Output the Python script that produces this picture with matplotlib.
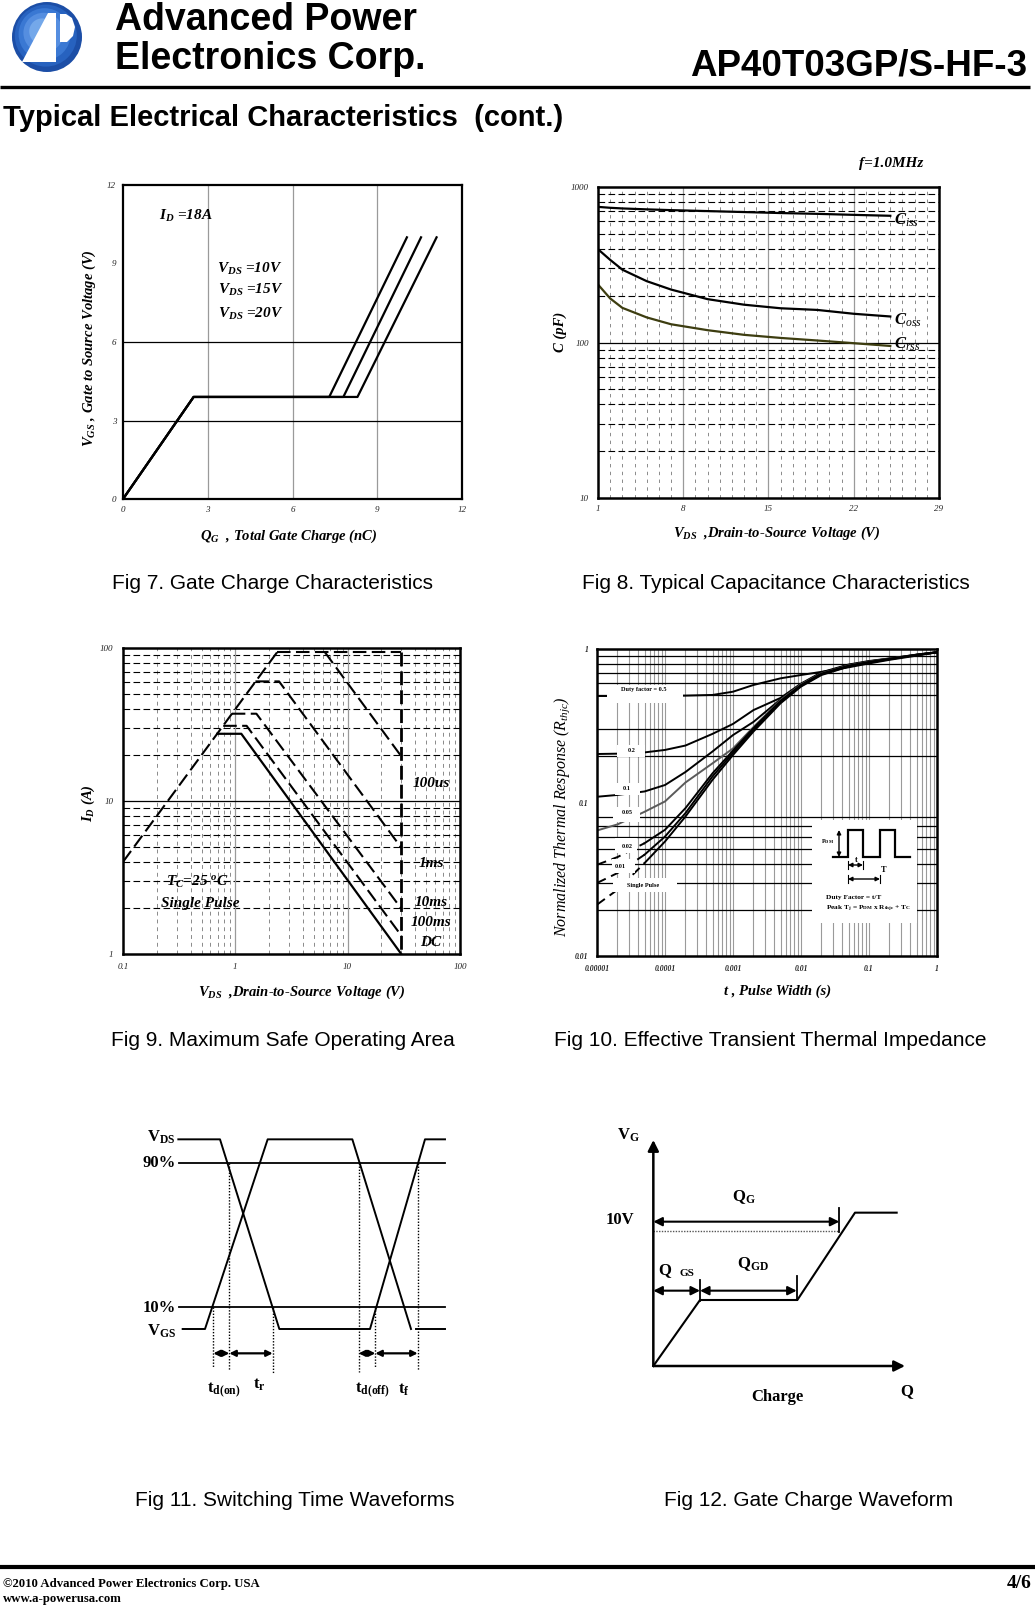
import numpy as np
import matplotlib
matplotlib.use("Agg")
import matplotlib.pyplot as plt
from matplotlib.patches import Circle, Polygon, Rectangle

# ---------------- data ----------------
# Fig 7  gate charge
qg_ticks = [0, 3, 6, 9, 12]
vgs_ticks = [0, 3, 6, 9, 12]
qg_vds10 = [0, 2.5, 7.3, 10.05]
qg_vds15 = [0, 2.5, 7.8, 10.55]
qg_vds20 = [0, 2.5, 8.3, 11.1]
vgs_curve = [0, 3.9, 3.9, 10.0]

# Fig 8  capacitance
vds_ticks = [1, 8, 15, 22, 29]
cap_ticks = [10, 100, 1000]
vds_cap = [1, 2, 3, 5, 7, 10, 13, 16, 19, 22, 25]
ciss = [745, 735, 728, 718, 710, 700, 690, 680, 672, 662, 653]
coss = [398, 340, 294, 248, 219, 190, 175, 166, 162, 153, 147]
crss = [236, 192, 167, 145, 131, 120, 112, 107, 103, 99, 95]

# Fig 9  SOA
soa_vticks = [0.1, 1, 10, 100]
soa_iticks = [1, 10, 100]
rds_v = [0.1, 2.36]
rds_i = [4.0, 94.0]
top_v = [2.36, 30]
top_i = [94, 94]
v_100us = [6.26, 30]
i_100us = [94, 19.6]
v_1ms = [1.51, 2.45, 30]
i_1ms = [60.5, 60.5, 4.95]
v_10ms = [0.93, 1.54, 30]
i_10ms = [37.2, 37.2, 1.98]
v_100ms = [0.78, 1.26, 30]
i_100ms = [31, 31, 1.32]
v_dc = [0.69, 1.13, 30]
i_dc = [27.5, 27.5, 1.0]
vmax_v = [30, 30]
vmax_i = [94, 1.0]

# Fig 10 transient thermal impedance
t_ticks = [1e-5, 1e-4, 1e-3, 1e-2, 1e-1, 1]
t_labels = ['0.00001', '0.0001', '0.001', '0.01', '0.1', '1']
z_ticks = [0.01, 0.1, 1]
z_labels = ['0.01', '0.1', '1']
t_zth = [1e-5, 2e-5, 5e-5, 1e-4, 2e-4, 5e-4, 1e-3, 2e-3, 5e-3, 1e-2, 2e-2, 5e-2, 0.1, 0.2, 0.5, 1]
z_single = [0.0216, 0.027, 0.0403, 0.0557, 0.081, 0.1406, 0.204, 0.29, 0.443, 0.569, 0.677, 0.767, 0.815, 0.857, 0.914, 0.951]
z_d001 = [0.0299, 0.0347, 0.0457, 0.060, 0.0853, 0.148, 0.211, 0.297, 0.45, 0.575, 0.684, 0.771, 0.819, 0.859, 0.915, 0.951]
z_d002 = [0.0393, 0.0441, 0.0543, 0.0664, 0.0919, 0.155, 0.218, 0.305, 0.459, 0.583, 0.691, 0.779, 0.823, 0.861, 0.916, 0.952]
z_d005 = [0.0657, 0.072, 0.087, 0.1016, 0.135, 0.18, 0.225, 0.31, 0.465, 0.588, 0.694, 0.782, 0.826, 0.863, 0.917, 0.952]
z_d01 = [0.109, 0.112, 0.118, 0.13, 0.158, 0.215, 0.275, 0.335, 0.47, 0.59, 0.698, 0.786, 0.83, 0.866, 0.918, 0.953]
z_d02 = [0.207, 0.208, 0.212, 0.22, 0.235, 0.28, 0.325, 0.40, 0.48, 0.595, 0.705, 0.792, 0.835, 0.868, 0.919, 0.953]
z_d05 = [0.494, 0.494, 0.494, 0.495, 0.497, 0.502, 0.527, 0.583, 0.644, 0.677, 0.71, 0.76, 0.805, 0.85, 0.905, 0.951]

# Fig 11 switching waveform (schematic units)
sw_a_x = [175, 300, 478, 750, 915, 975]
sw_a_y = [148, 148, 717, 717, 148, 148]
sw_b_x = [188, 255, 443, 697, 873, np.nan, 888, 975]
sw_b_y = [717, 717, 148, 148, 717, np.nan, 717, 717]
sw_lvl90 = 218
sw_lvl10 = 652
sw_ref_x = [178, 975]
sw_mark_x = [280, 328, 458, 716, 766, 893]
sw_mark_top = [652, 218, 652, 218, 652, 218]
sw_mark_bot = [830, 840, 850, 845, 830, 840]
sw_arrow_y = 790

# Fig 12 gate charge waveform (schematic units)
gc_x = [220, 360, 652, 825, 950]
gc_y = [828, 630, 630, 368, 368]
gc_origin = (220, 828)
gc_axis_top = 150
gc_axis_right = 975
gc_qg_end = 778
gc_qg_y = 395
gc_10v_y = 423
gc_qgs_end = 360
gc_qgd_end = 650
gc_q_y = 602

# ---------------- layout helpers ----------------
W, H = 1035, 1605
SERIF = 'Liberation Serif'
SANS = 'Liberation Sans'
plt.rcParams['font.family'] = [SERIF, 'DejaVu Sans']
plt.rcParams['mathtext.fontset'] = 'custom'
plt.rcParams['mathtext.rm'] = 'Liberation Serif'
plt.rcParams['mathtext.it'] = 'Liberation Serif:italic'
plt.rcParams['mathtext.bf'] = 'Liberation Serif:bold'
plt.rcParams['mathtext.bfit'] = 'Liberation Serif:italic:bold'


def axrect(x0, y0, x1, y1):
    return [x0 / W, 1 - y1 / H, (x1 - x0) / W, (y1 - y0) / H]


def fx(x):
    return x / W


def fy(y):
    return 1 - y / H


fig = plt.figure(figsize=(W / 100, H / 100), dpi=100)
fig.patch.set_facecolor('white')

BI = dict(fontweight='bold', fontstyle='italic', fontfamily=SERIF)


def ticks_style(ax, xt, xl, yt, yl, size, padx, pady, weight='normal'):
    ax.set_xticks(xt)
    ax.set_xticklabels(xl, fontsize=size, fontstyle='italic', fontweight=weight, color='#222222')
    ax.set_yticks(yt)
    ax.set_yticklabels(yl, fontsize=size, fontstyle='italic', fontweight=weight, color='#222222')
    ax.minorticks_off()
    ax.tick_params(axis='both', which='both', length=0)
    ax.tick_params(axis='x', pad=padx)
    ax.tick_params(axis='y', pad=pady)


def spines(ax, lw):
    for sp in ax.spines.values():
        sp.set_linewidth(lw)
        sp.set_zorder(5)


def caption(x, y, s):
    fig.text(fx(x), fy(y), s, ha='center', va='center', fontsize=15, fontfamily=SANS)


# ---------------- Fig 7 ----------------
ax7 = fig.add_axes(axrect(123, 185, 462, 499))
ax7.set_xlim(0, 12)
ax7.set_ylim(0, 12)
for v in [3, 6, 9]:
    ax7.axvline(v, color='#9a9a9a', lw=0.9, zorder=1)
for v in [3, 6]:
    ax7.axhline(v, color='black', lw=0.9, zorder=1)
for q in (qg_vds10, qg_vds15, qg_vds20):
    ax7.plot(q, vgs_curve, color='black', lw=1.6, zorder=3)
ticks_style(ax7, qg_ticks, [str(v) for v in qg_ticks], vgs_ticks, [str(v) for v in vgs_ticks], 6.5, 5, 5)
spines(ax7, 1.6)
ax7.text(1.27, 10.8, r'$\mathbfit{I}_{\mathbfit{D}}$ =18A', fontsize=11, va='center', **BI)
ax7.text(3.33, 8.81, r'$\mathbfit{V}_{\mathbfit{DS}}$ =10V', fontsize=11, va='center', **BI)
ax7.text(3.37, 8.0, r'$\mathbfit{V}_{\mathbfit{DS}}$ =15V', fontsize=11, va='center', **BI)
ax7.text(3.37, 7.09, r'$\mathbfit{V}_{\mathbfit{DS}}$ =20V', fontsize=11, va='center', **BI)
fig.text(fx(89), fy(348), r'$\mathbfit{V}_{\mathbfit{GS}}$ , Gate to Source Voltage (V)', rotation=90,
         ha='center', va='center', fontsize=10.5, **BI)
fig.text(fx(289), fy(536), r'$\mathbfit{Q}_{\mathbfit{G}}$  , Total Gate Charge (nC)', ha='center', va='center',
         fontsize=10.5, **BI)
caption(272, 583, 'Fig 7. Gate Charge Characteristics')

# ---------------- Fig 8 ----------------
ax8 = fig.add_axes(axrect(598, 187, 939, 498))
ax8.set_yscale('log')
ax8.set_xlim(1, 29)
ax8.set_ylim(10, 1000)
for v in range(2, 29):
    if v in vds_ticks:
        ax8.axvline(v, color='#9a9a9a', lw=0.9, zorder=1)
    else:
        ax8.axvline(v, color='#8a8a8a', lw=0.7, ls=(0, (3.5, 4.5)), zorder=1)
for dec in (10, 100):
    for m in range(2, 10):
        ax8.axhline(dec * m, color='black', lw=0.8, ls=(0, (6, 3)), zorder=1)
ax8.axhline(100, color='black', lw=0.9, zorder=1)
ax8.plot(vds_cap, ciss, color='black', lw=1.6, zorder=3)
ax8.plot(vds_cap, coss, color='black', lw=1.6, zorder=3)
ax8.plot(vds_cap, crss, color='#3d3d10', lw=1.6, zorder=3)
ticks_style(ax8, vds_ticks, [str(v) for v in vds_ticks], cap_ticks, ['10', '100', '1000'], 6.5, 5, 6.5)
spines(ax8, 1.8)
ax8.text(25.3, 614, r'$\mathbfit{C}_{\mathit{iss}}$', fontsize=12, va='center', **BI)
ax8.text(25.3, 138, r'$\mathbfit{C}_{\mathit{oss}}$', fontsize=12, va='center', **BI)
ax8.text(25.3, 98, r'$\mathbfit{C}_{\mathit{rss}}$', fontsize=12, va='center', **BI)
fig.text(fx(923), fy(163), 'f=1.0MHz', ha='right', va='center', fontsize=11, **BI)
fig.text(fx(560), fy(332), 'C (pF)', rotation=90, ha='center', va='center', fontsize=10.5, **BI)
fig.text(fx(777), fy(533), r'$\mathbfit{V}_{\mathbfit{DS}}$  ,Drain-to-Source Voltage (V)', ha='center',
         va='center', fontsize=10.5, **BI)
caption(776, 583, 'Fig 8. Typical Capacitance Characteristics')

# ---------------- Fig 9 ----------------
ax9 = fig.add_axes(axrect(123, 648, 460, 954))
ax9.set_xscale('log')
ax9.set_yscale('log')
ax9.set_xlim(0.1, 100)
ax9.set_ylim(1, 100)
for dec in (0.1, 1, 10):
    for m in range(2, 10):
        ax9.axvline(dec * m, color='#8a8a8a', lw=0.7, ls=(0, (4, 4)), zorder=1)
for dec in (1, 10):
    for m in range(2, 10):
        ax9.axhline(dec * m, color='black', lw=0.8, ls=(0, (6, 3)), zorder=1)
for v in (1, 10):
    ax9.axvline(v, color='#9a9a9a', lw=0.9, zorder=1)
ax9.axhline(10, color='black', lw=0.9, zorder=1)
dash = (0, (6.5, 2.6))
for xs, ys in ((rds_v, rds_i), (top_v, top_i), (v_100us, i_100us), (v_1ms, i_1ms), (v_10ms, i_10ms),
               (v_100ms, i_100ms)):
    ax9.plot(xs, ys, color='black', lw=1.5, ls=dash, zorder=3)
ax9.plot(v_dc, i_dc, color='black', lw=1.6, zorder=3)
ax9.plot(vmax_v, vmax_i, color='black', lw=2.0, ls=(0, (5, 1.8)), zorder=3)
ticks_style(ax9, soa_vticks, ['0.1', '1', '10', '100'], soa_iticks, ['1', '10', '100'], 6.5, 6.5, 7)
spines(ax9, 1.8)
for s, xf, yf in (('100us', 0.860, 0.556), ('1ms', 0.876, 0.297), ('10ms', 0.866, 0.168),
                  ('100ms', 0.854, 0.102), ('DC', 0.883, 0.037)):
    ax9.text(xf, yf, s, transform=ax9.transAxes, fontsize=11, va='center', **BI)
ax9.text(0.129, 0.236, r'$\mathbfit{T}_{\mathbfit{C}}$=25 $^{\mathbfit{o}}$C', transform=ax9.transAxes,
         fontsize=11, va='center', **BI)
ax9.text(0.114, 0.165, 'Single Pulse', transform=ax9.transAxes, fontsize=11, va='center', **BI)
fig.text(fx(88), fy(803), r'$\mathbfit{I}_{\mathbfit{D}}$ (A)', rotation=90, ha='center', va='center',
         fontsize=10.5, **BI)
fig.text(fx(302), fy(992), r'$\mathbfit{V}_{\mathbfit{DS}}$  ,Drain-to-Source Voltage (V)', ha='center',
         va='center', fontsize=10.5, **BI)
caption(283, 1041, 'Fig 9. Maximum Safe Operating Area')

# ---------------- Fig 10 ----------------
ax10 = fig.add_axes(axrect(597, 649, 937, 956))
ax10.set_xscale('log')
ax10.set_yscale('log')
ax10.set_xlim(1e-5, 1)
ax10.set_ylim(0.01, 1)
for dec in (1e-5, 1e-4, 1e-3, 1e-2, 1e-1):
    for m in range(1, 10):
        if dec * m > 1e-5:
            ax10.axvline(dec * m, color='#9a9a9a', lw=0.8, zorder=1)
for v in [0.02, 0.03, 0.04, 0.05, 0.06, 0.07, 0.08, 0.2, 0.3, 0.5, 0.6, 0.7, 0.8, 0.9]:
    ax10.axhline(v, color='black', lw=0.9, zorder=1)
t_arr = np.array(t_zth)
left = t_arr <= 5e-5
right = t_arr >= 5e-5
for z, col in ((z_d05, 'black'), (z_d02, 'black'), (z_d01, 'black'), (z_d005, '#5a5a5a')):
    ax10.plot(t_zth, z, color=col, lw=1.4, zorder=3)
for z in (z_d002, z_d001, z_single):
    za = np.array(z)
    ax10.plot(t_arr[right], za[right], color='black', lw=1.4, zorder=3)
    ax10.plot(t_arr[left], za[left], color='black', lw=1.4, ls=(0, (5, 3)), zorder=3)
ticks_style(ax10, t_ticks, t_labels, z_ticks, z_labels, 5.5, 6.5, 6, weight='bold')
spines(ax10, 1.8)
fig.text(fx(562), fy(817), r'Normalized Thermal Response ($\mathit{R}_{\mathit{thjc}}$)', rotation=90,
         ha='center', va='center', fontsize=11.5, fontstyle='italic', fontfamily=SERIF)
fig.text(fx(778), fy(991), 't , Pulse Width (s)', ha='center', va='center', fontsize=10.5, **BI)
caption(770, 1041, 'Fig 10. Effective Transient Thermal Impedance')

# ---------------- overlay (header, footer, fig10 labels) ----------------
ov = fig.add_axes([0, 0, 1, 1], zorder=10)
ov.set_xlim(0, W)
ov.set_ylim(H, 0)
ov.axis('off')

# white label boxes over fig 10
for (x0, x1, y0, y1) in ((607, 683, 685, 703), (617, 645, 745, 757), (615, 640, 783, 795),
                         (613, 640, 807, 822), (615, 637, 838, 853), (612, 635, 859, 873),
                         (613, 677, 878, 892), (812, 917, 820, 923)):
    ov.add_patch(Rectangle((x0, y0), x1 - x0, y1 - y0, fc='white', ec='none', zorder=2))
lab_kw = dict(fontweight='bold', fontfamily=SERIF, ha='center', va='center', zorder=4)
for s, x, y, fs in (('Duty factor = 0.5', 644, 689, 4.5), ('0.2', 632, 750, 4.5), ('0.1', 627, 788, 4.5),
                    ('0.05', 627, 813, 4.5), ('0.02', 627, 846, 4.5), ('0.01', 620, 867, 4.5),
                    ('Single Pulse', 643, 886, 4.5)):
    ov.text(x, y, s, fontsize=fs, **lab_kw)
# PDM inset
pdm_x = [833, 848, 848, 863, 863, 880, 880, 895, 895, 910]
pdm_y = [857, 857, 830, 830, 857, 857, 830, 830, 857, 857]
ov.plot(pdm_x, pdm_y, color='black', lw=1.6, zorder=4, solid_joinstyle='miter')
ov.annotate('', xy=(839, 830), xytext=(839, 857),
            arrowprops=dict(arrowstyle='<|-|>', lw=1.0, color='black', mutation_scale=6, shrinkA=0, shrinkB=0),
            zorder=4)
ov.annotate('', xy=(848, 865), xytext=(863, 865),
            arrowprops=dict(arrowstyle='<|-|>', lw=1.0, color='black', mutation_scale=6, shrinkA=0, shrinkB=0),
            zorder=4)
ov.annotate('', xy=(848, 879), xytext=(880, 879),
            arrowprops=dict(arrowstyle='<|-|>', lw=1.0, color='black', mutation_scale=6, shrinkA=0, shrinkB=0),
            zorder=4)
for xx, yc in ((848, 865), (863, 865), (848, 879), (880, 879)):
    ov.plot([xx, xx], [yc - 4, yc + 4], color='black', lw=0.8, zorder=4)
ov.text(828, 842, r'P$_{\mathbf{DM}}$', fontsize=4.5, **lab_kw)
ov.text(856, 860, 't', fontsize=6, **lab_kw)
ov.text(884, 870, 'T', fontsize=6, **lab_kw)
ov.text(826, 898, 'Duty Factor = t/T', fontsize=5.3, fontweight='bold', fontfamily=SERIF, ha='left',
        va='center', zorder=4)
ov.text(826, 909, r'Peak T$_{\mathbf{j}}$ = P$_{\mathbf{DM}}$ x R$_{\mathbf{thjc}}$ + T$_{\mathbf{C}}$',
        fontsize=5.3, fontweight='bold', fontfamily=SERIF, ha='left', va='center', zorder=4)

# header
for r, c, off in ((35, '#1c4ea6', 0), (31, '#2762bf', 2), (26, '#3a78d3', 4), (20, '#558ee0', 6),
                  (13, '#74a8ea', 8)):
    ov.add_patch(Circle((47 - off * 0.6, 37 - off * 0.7), r, fc=c, ec='none', zorder=2))
ov.add_patch(Polygon([(22, 62), (48, 13), (56, 13), (56, 62)], closed=True, fc='white', ec='none', zorder=3))
ov.add_patch(Polygon([(60, 14), (66, 14), (72, 18), (75, 27), (73, 36), (67, 42), (60, 42)], closed=True,
                     fc='white', ec='none', zorder=3))
ov.text(115, 30, 'Advanced Power', fontsize=27, fontweight='bold', fontfamily=SANS, ha='left',
        va='baseline')
ov.text(115, 69, 'Electronics Corp.', fontsize=27, fontweight='bold', fontfamily=SANS, ha='left',
        va='baseline')
ov.text(1027, 76, 'AP40T03GP/S-HF-3', fontsize=26.5, fontweight='bold', fontfamily=SANS, ha='right',
        va='baseline')
ov.plot([0, 1030], [87, 87], color='black', lw=2.4, solid_capstyle='butt')
ov.text(3, 126, 'Typical Electrical Characteristics  (cont.)', fontsize=21, fontweight='bold',
        fontfamily=SANS, ha='left', va='baseline')

# footer
ov.plot([0, W], [1567, 1567], color='black', lw=3.0, solid_capstyle='butt')
ov.text(3, 1584, '\u00a92010 Advanced Power Electronics Corp. USA', fontsize=9.2, fontweight='bold',
        fontfamily=SERIF, ha='left', va='center')
ov.text(3, 1599, 'www.a-powerusa.com', fontsize=9.2, fontweight='bold', fontfamily=SERIF, ha='left',
        va='center')
ov.text(1032, 1583, '4/6', fontsize=14, fontweight='bold', fontfamily=SERIF, ha='right', va='center')

# ---------------- Fig 11 ----------------
ax11 = fig.add_axes(axrect(120, 1090, 120 + 1000 / 3, 1090 + 1000 / 3))
ax11.set_xlim(0, 1000)
ax11.set_ylim(1000, 0)
ax11.axis('off')
ax11.plot(sw_ref_x, [sw_lvl90, sw_lvl90], color='black', lw=1.3)
ax11.plot(sw_ref_x, [sw_lvl10, sw_lvl10], color='black', lw=1.3)
ax11.plot(sw_a_x, sw_a_y, color='black', lw=1.4)
ax11.plot(sw_b_x, sw_b_y, color='black', lw=1.4)
for xm, yt, yb in zip(sw_mark_x, sw_mark_top, sw_mark_bot):
    ax11.plot([xm, xm], [yt, yb], color='black', lw=1.0, ls=(0, (1, 1.2)))
for a, b in ((0, 1), (1, 2), (3, 4), (4, 5)):
    ax11.annotate('', xy=(sw_mark_x[a], sw_arrow_y), xytext=(sw_mark_x[b], sw_arrow_y),
                  arrowprops=dict(arrowstyle='<|-|>', lw=1.6, color='black', mutation_scale=9,
                                  shrinkA=0, shrinkB=0))
sw_kw = dict(fontsize=12, fontweight='bold', fontfamily=SERIF, va='center', ha='left')
ax11.text(80, 143, r'$\mathbf{V}_{\mathbf{DS}}$', **sw_kw)
ax11.text(68, 218, '90%', **sw_kw)
ax11.text(68, 655, '10%', **sw_kw)
ax11.text(80, 725, r'$\mathbf{V}_{\mathbf{GS}}$', **sw_kw)
ax11.text(262, 900, r'$\mathbf{t}_{\mathbf{d(on)}}$', **sw_kw)
ax11.text(398, 885, r'$\mathbf{t}_{\mathbf{r}}$', **sw_kw)
ax11.text(705, 900, r'$\mathbf{t}_{\mathbf{d(off)}}$', **sw_kw)
ax11.text(834, 900, r'$\mathbf{t}_{\mathbf{f}}$', **sw_kw)
caption(295, 1500, 'Fig 11. Switching Time Waveforms')

# ---------------- Fig 12 ----------------
ax12 = fig.add_axes(axrect(580, 1090, 580 + 1000 / 3, 1090 + 1000 / 3))
ax12.set_xlim(0, 1000)
ax12.set_ylim(1000, 0)
ax12.axis('off')
ax12.annotate('', xy=(gc_origin[0], gc_axis_top), xytext=gc_origin,
              arrowprops=dict(arrowstyle='-|>', lw=1.8, color='black', mutation_scale=16, shrinkA=0, shrinkB=0))
ax12.annotate('', xy=(gc_axis_right, gc_origin[1]), xytext=gc_origin,
              arrowprops=dict(arrowstyle='-|>', lw=1.8, color='black', mutation_scale=16, shrinkA=0, shrinkB=0))
ax12.plot(gc_x, gc_y, color='black', lw=1.5)
ax12.plot([gc_origin[0], gc_qg_end], [gc_10v_y, gc_10v_y], color='#555555', lw=1.0, ls=(0, (1, 1)))
arr = dict(arrowstyle='<|-|>', lw=1.5, color='black', mutation_scale=13, shrinkA=0, shrinkB=0)
ax12.annotate('', xy=(gc_origin[0], gc_qg_y), xytext=(gc_qg_end, gc_qg_y), arrowprops=arr)
ax12.annotate('', xy=(gc_origin[0], gc_q_y), xytext=(gc_qgs_end, gc_q_y), arrowprops=arr)
ax12.annotate('', xy=(gc_qgs_end, gc_q_y), xytext=(gc_qgd_end, gc_q_y), arrowprops=arr)
ax12.plot([gc_qg_end, gc_qg_end], [355, 425], color='black', lw=1.3)
ax12.plot([gc_qgs_end, gc_qgs_end], [570, 632], color='black', lw=1.3)
ax12.plot([gc_qgd_end, gc_qgd_end], [558, 630], color='black', lw=1.3)
gc_kw = dict(fontsize=12, fontweight='bold', fontfamily=SERIF, va='center', ha='left')
ax12.text(110, 135, r'$\mathbf{V}_{\mathbf{G}}$', **gc_kw)
ax12.text(78, 390, '10V', **gc_kw)
ax12.text(455, 322, r'$\mathbf{Q}_{\mathbf{G}}$', **gc_kw)
ax12.text(235, 540, 'Q', **gc_kw)
ax12.text(300, 550, 'GS', fontsize=8, fontweight='bold', fontfamily=SERIF, va='center', ha='left')
ax12.text(470, 522, r'$\mathbf{Q}_{\mathbf{GD}}$', **gc_kw)
ax12.text(591, 921, 'Charge', fontsize=12, fontweight='bold', fontfamily=SERIF, va='center', ha='center')
ax12.text(980, 903, 'Q', fontsize=12, fontweight='bold', fontfamily=SERIF, va='center', ha='center')
caption(809, 1500, 'Fig 12. Gate Charge Waveform')

fig.savefig('out.png', dpi=100)
